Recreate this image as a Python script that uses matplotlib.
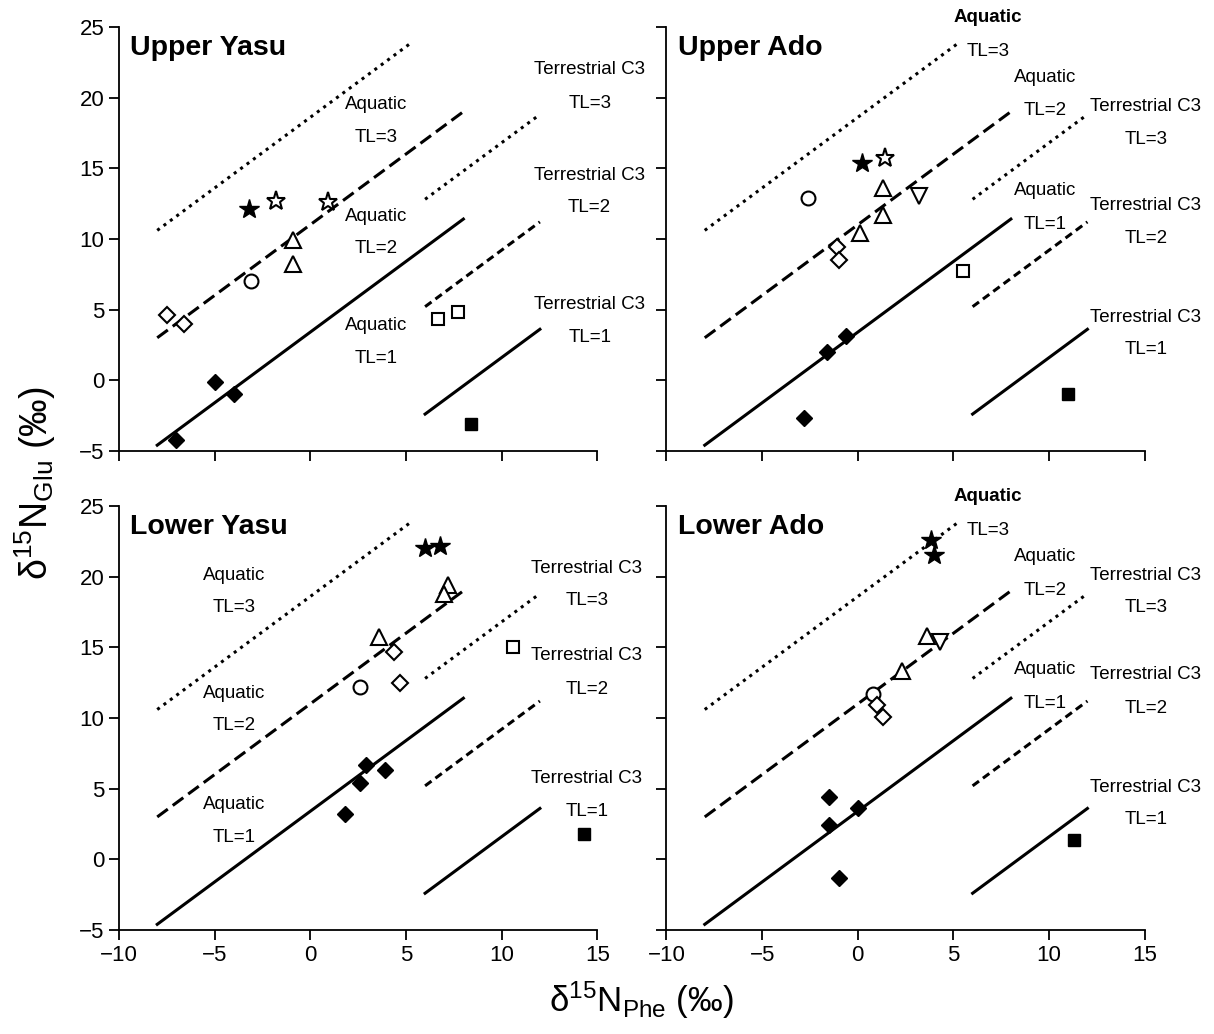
#!/usr/bin/env python3
"""Amino acid d15N biplots (Glu vs Phe) for the four Yasu / Ado sites.

- one panel per site, shared axes
- aquatic and terrestrial C3 trophic level isolines (TL=1..3)
- markers by consumer group
- saved to out.png
"""
import matplotlib
matplotlib.use('Agg')
import matplotlib.pyplot as plt

plt.rcParams['font.family'] = ['Liberation Sans', 'DejaVu Sans']
plt.rcParams['mathtext.fontset'] = 'custom'
plt.rcParams['mathtext.rm'] = 'Liberation Sans'
plt.rcParams['mathtext.it'] = 'Liberation Sans:italic'

# isolines: endpoints along d15N Phe and d15N Glu
AQUATIC_PHE = [-8, 8]
AQUATIC_TL3_PHE = [-8, 5.2]
AQUATIC_TL1_GLU = [-4.6, 11.4]
AQUATIC_TL2_GLU = [3.0, 19.0]
AQUATIC_TL3_GLU = [10.6, 23.8]
TERR_PHE = [6, 12]
TERR_TL1_GLU = [-2.4, 3.6]
TERR_TL2_GLU = [5.2, 11.2]
TERR_TL3_GLU = [12.8, 18.8]

# --- Upper Yasu
UPPER_YASU_PHE = [-7.5, -6.6, -5.0, -4.0, -7.0, -3.1, -0.9, -0.9, -3.2, -1.8, 0.9, 6.7, 7.7, 8.4]
UPPER_YASU_GLU = [4.6, 4.0, -0.1, -1.0, -4.2, 7.0, 9.9, 8.2, 12.1, 12.7, 12.6, 4.3, 4.8, -3.1]
UPPER_YASU_KIND = ['open_diamond', 'open_diamond', 'diamond', 'diamond', 'diamond', 'circle',
                   'triangle', 'triangle', 'star', 'open_star', 'open_star',
                   'open_square', 'open_square', 'square']

# --- Upper Ado
UPPER_ADO_PHE = [-2.6, 0.2, 1.4, 1.3, 1.3, 0.1, 3.2, -1.1, -1.0, -1.6, -0.6, -2.8, 5.5, 11.0]
UPPER_ADO_GLU = [12.9, 15.4, 15.7, 13.6, 11.7, 10.4, 13.0, 9.4, 8.5, 2.0, 3.1, -2.7, 7.7, -1.0]
UPPER_ADO_KIND = ['circle', 'star', 'open_star', 'triangle', 'triangle', 'triangle', 'triangle_down',
                  'open_diamond', 'open_diamond', 'diamond', 'diamond', 'diamond',
                  'open_square', 'square']

# --- Lower Yasu
LOWER_YASU_PHE = [6.0, 6.8, 7.2, 7.0, 3.6, 4.4, 4.7, 2.6, 2.9, 3.9, 2.6, 1.8, 10.6, 14.3]
LOWER_YASU_GLU = [22.0, 22.2, 19.4, 18.8, 15.7, 14.7, 12.5, 12.2, 6.7, 6.3, 5.4, 3.2, 15.0, 1.8]
LOWER_YASU_KIND = ['star', 'star', 'triangle', 'triangle', 'triangle', 'open_diamond', 'open_diamond',
                   'circle', 'diamond', 'diamond', 'diamond', 'diamond', 'open_square', 'square']

# --- Lower Ado
LOWER_ADO_PHE = [3.8, 4.0, 3.6, 2.3, 4.3, 0.8, 1.0, 1.3, -1.5, -1.5, 0.0, -1.0, 11.3]
LOWER_ADO_GLU = [22.6, 21.5, 15.8, 13.3, 15.4, 11.7, 10.9, 10.1, 4.4, 2.4, 3.6, -1.3, 1.4]
LOWER_ADO_KIND = ['star', 'star', 'triangle', 'triangle', 'triangle_down', 'circle', 'open_diamond',
                  'open_diamond', 'diamond', 'diamond', 'diamond', 'diamond', 'square']

# marker, size, filled
MARKERS = {
    'diamond': ('D', 8.5, True),
    'open_diamond': ('D', 8.0, False),
    'circle': ('o', 10, False),
    'triangle': ('^', 12, False),
    'triangle_down': ('v', 12, False),
    'star': ('*', 15, True),
    'open_star': ('*', 14, False),
    'square': ('s', 9, True),
    'open_square': ('s', 8.5, False),
}

LABEL_SIZE = 13.5


def draw_isolines(ax):
    lw = 2.2
    ax.plot(AQUATIC_PHE, AQUATIC_TL1_GLU, color='black', lw=lw)
    ax.plot(AQUATIC_PHE, AQUATIC_TL2_GLU, color='black', lw=lw, linestyle=(0, (4.3, 2.0)))
    ax.plot(AQUATIC_TL3_PHE, AQUATIC_TL3_GLU, color='black', lw=lw, linestyle=(0, (1, 1.6)))
    ax.plot(TERR_PHE, TERR_TL1_GLU, color='black', lw=lw)
    ax.plot(TERR_PHE, TERR_TL2_GLU, color='black', lw=lw, linestyle=(0, (2.6, 1.6)))
    ax.plot(TERR_PHE, TERR_TL3_GLU, color='black', lw=lw, linestyle=(0, (1, 1.6)))


def draw_points(ax, xs, ys, kinds):
    for x, y, kind in zip(xs, ys, kinds):
        marker, size, filled = MARKERS[kind]
        ax.plot([x], [y], linestyle='none', marker=marker, markersize=size,
                markerfacecolor='black' if filled else 'white',
                markeredgecolor='black', markeredgewidth=1.0 if filled else 1.5, zorder=5)


def label_pair(ax, x, y_top, y_bot, top, bottom, bold=False):
    ax.text(x, y_top, top, ha='center', va='center', fontsize=LABEL_SIZE,
            fontweight='bold' if bold else 'normal', clip_on=False)
    ax.text(x, y_bot, bottom, ha='center', va='center', fontsize=LABEL_SIZE, clip_on=False)


def label_left_panel(ax, aq_x, aq_ys, terr_x, terr_ys):
    for (yt, yb), tl in zip(aq_ys, ['TL=3', 'TL=2', 'TL=1']):
        label_pair(ax, aq_x, yt, yb, 'Aquatic', tl)
    for (yt, yb), tl in zip(terr_ys, ['TL=3', 'TL=2', 'TL=1']):
        label_pair(ax, terr_x, yt, yb, 'Terrestrial C3', tl)


def label_right_panel(ax, terr_ys):
    label_pair(ax, 6.8, 25.65, 23.25, 'Aquatic', 'TL=3', bold=True)
    label_pair(ax, 9.8, 21.45, 19.05, 'Aquatic', 'TL=2')
    label_pair(ax, 9.8, 13.4, 11.0, 'Aquatic', 'TL=1')
    for (yt, yb), tl in zip(terr_ys, ['TL=3', 'TL=2', 'TL=1']):
        label_pair(ax, 15.05, yt, yb, 'Terrestrial C3', tl)


def style_axes(ax, show_x, show_y):
    ax.set_xlim(-10, 15)
    ax.set_ylim(-5, 25)
    ax.set_xticks(range(-10, 16, 5))
    ax.set_yticks(range(-5, 26, 5))
    for side in ('top', 'right'):
        ax.spines[side].set_visible(False)
    for side in ('left', 'bottom'):
        ax.spines[side].set_linewidth(1.3)
    ax.tick_params(direction='out', length=7, width=1.3, labelsize=16,
                   labelbottom=show_x, labelleft=show_y)


def main():
    fig = plt.figure(figsize=(12.14, 10.34), dpi=100)
    w, h = 0.394, 0.410
    ax_uy = fig.add_axes([0.098, 0.564, w, h])
    ax_ua = fig.add_axes([0.549, 0.564, w, h])
    ax_ly = fig.add_axes([0.098, 0.1006, w, h])
    ax_la = fig.add_axes([0.549, 0.1006, w, h])

    panels = [
        (ax_uy, 'Upper Yasu', UPPER_YASU_PHE, UPPER_YASU_GLU, UPPER_YASU_KIND, False, True),
        (ax_ua, 'Upper Ado', UPPER_ADO_PHE, UPPER_ADO_GLU, UPPER_ADO_KIND, False, False),
        (ax_ly, 'Lower Yasu', LOWER_YASU_PHE, LOWER_YASU_GLU, LOWER_YASU_KIND, True, True),
        (ax_la, 'Lower Ado', LOWER_ADO_PHE, LOWER_ADO_GLU, LOWER_ADO_KIND, True, False),
    ]
    for ax, title, xs, ys, kinds, show_x, show_y in panels:
        style_axes(ax, show_x, show_y)
        draw_isolines(ax)
        draw_points(ax, xs, ys, kinds)
        ax.text(-9.4, 23.5, title, ha='left', va='center', fontsize=20.5, fontweight='bold')

    label_left_panel(ax_uy, 3.45, [(19.5, 17.15), (11.6, 9.35), (3.85, 1.55)],
                     14.6, [(21.95, 19.6), (14.5, 12.25), (5.35, 3.0)])
    label_left_panel(ax_ly, -4.0, [(20.05, 17.8), (11.75, 9.45), (3.9, 1.55)],
                     14.45, [(20.6, 18.3), (14.4, 12.05), (5.75, 3.4)])
    label_right_panel(ax_ua, [(19.4, 17.05), (12.35, 10.05), (4.4, 2.15)])
    label_right_panel(ax_la, [(20.1, 17.8), (13.05, 10.7), (5.1, 2.85)])

    fig.text(0.029, 0.533, 'δ$^{15}$N$_{\\mathrm{Glu}}$ (‰)', rotation=90,
             ha='center', va='center', fontsize=27)
    fig.text(0.528, 0.033, 'δ$^{15}$N$_{\\mathrm{Phe}}$ (‰)',
             ha='center', va='center', fontsize=25)

    fig.savefig('out.png', dpi=100)
    plt.close(fig)


if __name__ == '__main__':
    main()
